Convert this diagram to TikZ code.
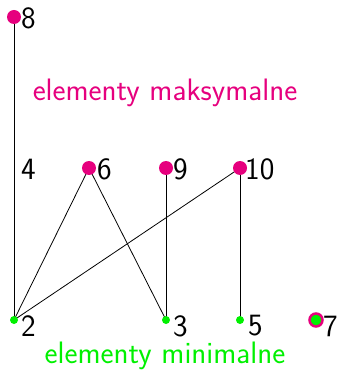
\documentclass[tikz,border=0pt]{standalone}
\usepackage{fontspec}
\definecolor{mag}{RGB}{230,0,126}
\definecolor{grn}{RGB}{0,240,0}
\begin{document}
\begin{tikzpicture}[x=1pt,y=-1pt,
  maxdot/.style={circle,fill=mag,inner sep=0pt,minimum size=14pt},
  mindot/.style={circle,fill=grn,inner sep=0pt,minimum size=8pt},
  lab/.style={font=\sffamily\fontsize{31}{34}\selectfont,inner sep=0pt,anchor=west},
  edge/.style={draw=black,line width=0.8pt}]
\useasboundingbox (0,0) rectangle (340,371);
% node positions
\coordinate (n8) at (14,17);
\coordinate (n6) at (89,168);
\coordinate (n9) at (166,168);
\coordinate (n10) at (240,168);
\coordinate (n2) at (14,320);
\coordinate (n3) at (166,320);
\coordinate (n5) at (240,320);
\coordinate (n7) at (316,320);
% edges
\draw[edge] (n2) -- (n8);
\draw[edge] (n2) -- (n6);
\draw[edge] (n3) -- (n6);
\draw[edge] (n3) -- (n9);
\draw[edge] (n2) -- (n10);
\draw[edge] (n5) -- (n10);
% dots
\node[maxdot] (d8) at (n8) {};
\node[maxdot] (d6) at (n6) {};
\node[maxdot] (d9) at (n9) {};
\node[maxdot] (d10) at (n10) {};
\node[mindot] (d2) at (n2) {};
\node[mindot] (d3) at (n3) {};
\node[mindot] (d5) at (n5) {};
\node[circle,fill=grn,draw=mag,line width=2.5pt,inner sep=0pt,minimum size=13pt] (d7) at (n7) {};
% labels
\node[lab] (l8) at (21,18) {8};
\node[lab] (l4) at (21,169) {4};
\node[lab] (l6) at (97,169) {6};
\node[lab] (l9) at (173,169) {9};
\node[lab] (l10) at (245,169) {10};
\node[lab] (l2) at (21,326) {2};
\node[lab] (l3) at (173,326) {3};
\node[lab] (l5) at (248,326) {5};
\node[lab] (l7) at (323,326) {7};
\node[lab,anchor=center,text=mag] (tmax) at (165,93) {elementy maksymalne};
\node[lab,anchor=center,text=grn] (tmin) at (165,356) {elementy minimalne};
\end{tikzpicture}
\end{document}
